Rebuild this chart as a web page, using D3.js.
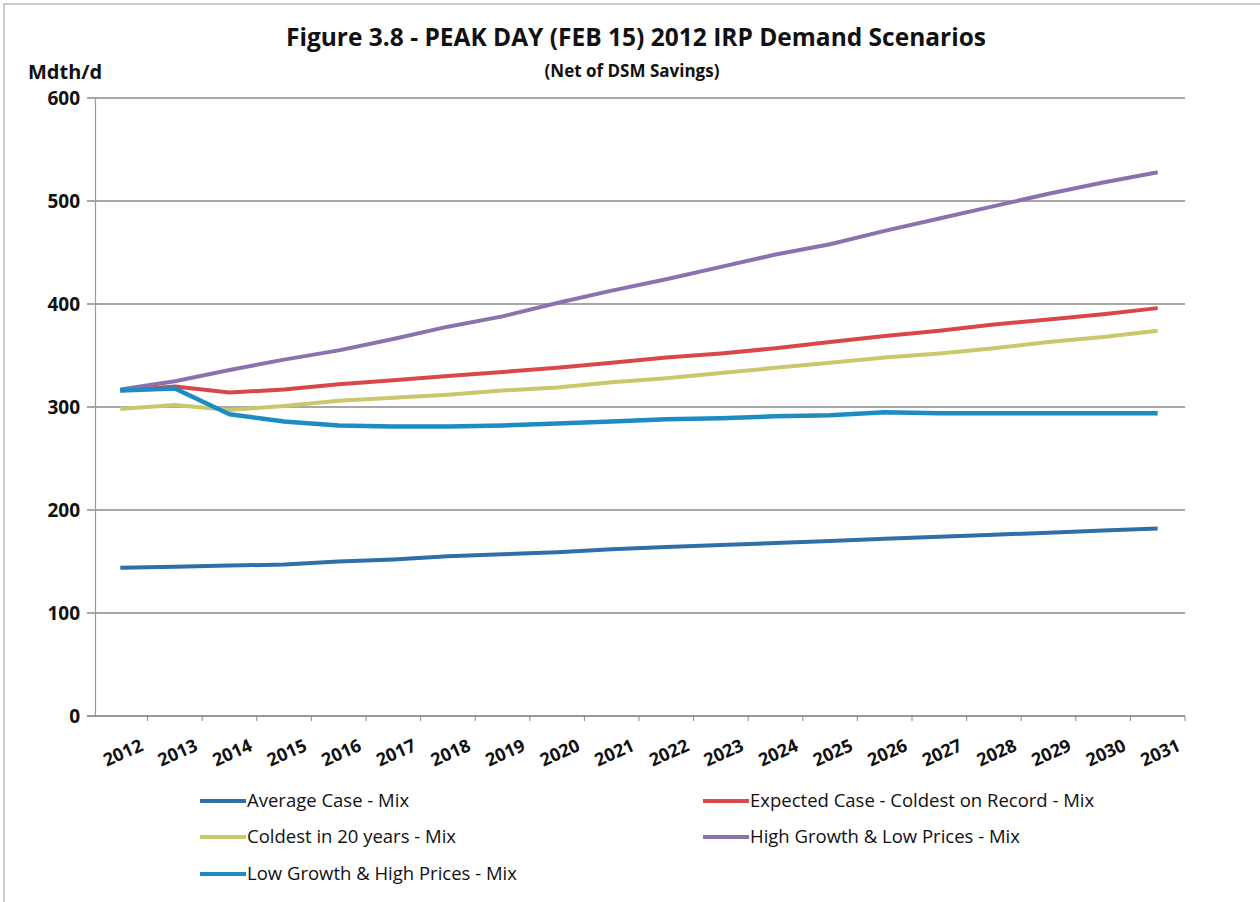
<!DOCTYPE html>
<html>
<head>
<meta charset="utf-8">
<script src="https://cdn.jsdelivr.net/npm/d3@7"></script>
<style>
  body { margin: 0; background: #fff; }
  svg { display: block; font-family: "Open Sans", sans-serif; }
</style>
</head>
<body>
<svg id="chart" width="1260" height="902"></svg>
<script>
var years = ["2012","2013","2014","2015","2016","2017","2018","2019","2020","2021",
             "2022","2023","2024","2025","2026","2027","2028","2029","2030","2031"];
var yTicks = [0, 100, 200, 300, 400, 500, 600];

var averageCase  = [144,145,146,147,150,152,155,157,159,162,164,166,168,170,172,174,176,178,180,182];
var expectedCase = [316,320,314,317,322,326,330,334,338,343,348,352,357,363,369,374,380,385,390,396];
var coldest20    = [298,302,297,301,306,309,312,316,319,324,328,333,338,343,348,352,357,363,368,374];
var highGrowth   = [317,325,336,346,355,366,378,388,401,413,424,436,448,458,471,483,495,507,518,528];
var lowGrowth    = [316,318,293,286,282,281,281,282,284,286,288,289,291,292,295,294,294,294,294,294];

var series = [
  {name: "Average Case - Mix", values: averageCase, color: "#2f6ea8"},
  {name: "Expected Case - Coldest on Record - Mix", values: expectedCase, color: "#d9474a"},
  {name: "Coldest in 20 years - Mix", values: coldest20, color: "#c9c86a"},
  {name: "High Growth & Low Prices - Mix", values: highGrowth, color: "#8a73ad"},
  {name: "Low Growth & High Prices - Mix", values: lowGrowth, color: "#1d8cc4"}
];

var svg = d3.select("#chart");
var plotLeft = 93, plotRight = 1185, plotTop = 98, plotBottom = 716;

// outer frame of the pasted figure
svg.append("rect").attr("x", 4).attr("y", 4).attr("width", 1262).attr("height", 900)
   .attr("fill", "none").attr("stroke", "#bbb").attr("stroke-width", 1.5);

var x = d3.scaleBand().domain(years).range([plotLeft, plotRight]);
var y = d3.scaleLinear().domain([0, 600]).range([plotBottom, plotTop]);

// gridlines
svg.append("g").selectAll("line").data(yTicks).join("line")
   .attr("x1", plotLeft - 6).attr("x2", plotRight)
   .attr("y1", function(d){ return y(d); }).attr("y2", function(d){ return y(d); })
   .attr("stroke", function(d){ return d === 0 ? "#777" : "#8a8a8a"; })
   .attr("stroke-width", 1.5);

// y axis
var yAxis = svg.append("g").attr("transform", "translate(" + (plotLeft + 2) + ",0)")
   .call(d3.axisLeft(y).tickValues(yTicks).tickSize(0).tickPadding(15));
yAxis.select(".domain").attr("stroke", "#999").attr("stroke-width", 1.2);
yAxis.selectAll("text").attr("font-size", 19).attr("font-weight", "bold").attr("fill", "#111")
   .attr("font-family", "'Open Sans', sans-serif");

// x axis
var xAxis = svg.append("g").attr("transform", "translate(0," + plotBottom + ")")
   .call(d3.axisBottom(x).tickSize(0).tickPadding(0));
xAxis.select(".domain").remove();
xAxis.selectAll("line.tk").data(years).join("line").attr("class", "tk")
   .attr("x1", function(d){ return x(d) + x.bandwidth(); })
   .attr("x2", function(d){ return x(d) + x.bandwidth(); })
   .attr("y1", 0).attr("y2", 5).attr("stroke", "#888");
xAxis.selectAll(".tick text")
   .attr("font-size", 18).attr("font-weight", "bold").attr("fill", "#111")
   .attr("font-family", "'Open Sans', sans-serif")
   .attr("text-anchor", "end")
   .attr("transform", "translate(24,34) rotate(-24)")
   .attr("dy", 0);

// lines
var line = d3.line()
   .x(function(d, i){ return x(years[i]) + x.bandwidth() / 2; })
   .y(function(d){ return y(d); });

svg.append("g").selectAll("path").data(series).join("path")
   .attr("d", function(s){ return line(s.values); })
   .attr("fill", "none")
   .attr("stroke", function(s){ return s.color; })
   .attr("stroke-width", function(s){ return s.values === lowGrowth ? 4.5 : 4; })
   .attr("stroke-linejoin", "round");

// titles
svg.append("text").attr("x", 636).attr("y", 46).attr("text-anchor", "middle")
   .attr("font-size", 24.5).attr("font-weight", "bold").attr("fill", "#111")
   .text("Figure 3.8 - PEAK DAY (FEB 15) 2012 IRP Demand Scenarios");
svg.append("text").attr("x", 632).attr("y", 77).attr("text-anchor", "middle")
   .attr("font-size", 17).attr("font-weight", "bold").attr("fill", "#111")
   .text("(Net of DSM Savings)");
svg.append("text").attr("x", 28).attr("y", 79)
   .attr("font-size", 20).attr("font-weight", "bold").attr("fill", "#111")
   .text("Mdth/d");

// legend
var legendPos = [[200, 801], [703, 801], [200, 837], [703, 837], [200, 874]];
var lg = svg.append("g").selectAll("g").data(series).join("g")
   .attr("transform", function(d, i){ return "translate(" + legendPos[i][0] + "," + legendPos[i][1] + ")"; });
lg.append("line").attr("x1", 0).attr("x2", 46).attr("y1", 0).attr("y2", 0)
   .attr("stroke", function(d){ return d.color; }).attr("stroke-width", 4);
lg.append("text").attr("x", 47).attr("y", 6)
   .attr("font-size", 18.5).attr("fill", "#111")
   .text(function(d){ return d.name; });
</script>
</body>
</html>
